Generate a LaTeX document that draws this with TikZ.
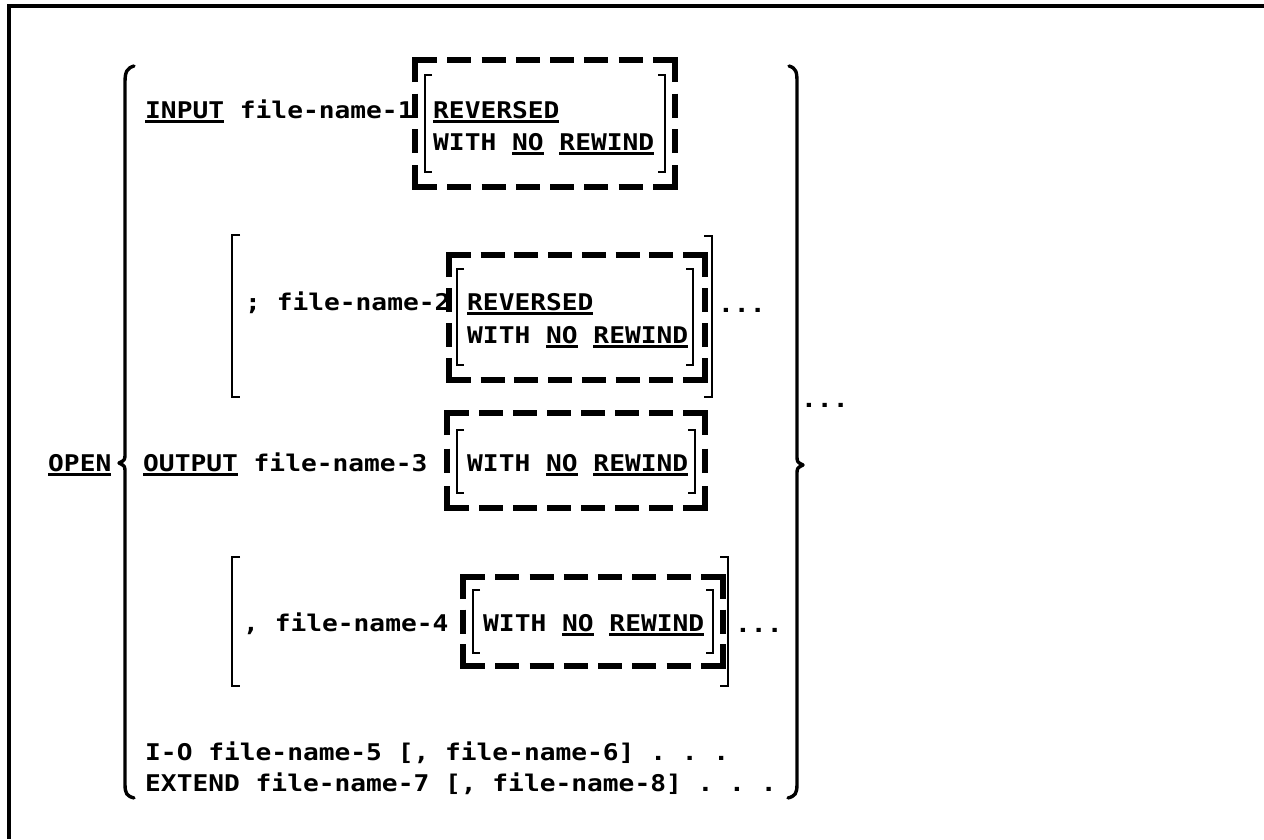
\documentclass[tikz,border=0pt]{standalone}
\usepackage{fontspec}
\setmonofont{DejaVu Sans Mono}[FakeStretch=1.14]
\usetikzlibrary{positioning}

\newsavebox\ulbox
\newcommand\ul[1]{\sbox\ulbox{#1}\rlap{\rule[-4.8pt]{\wd\ulbox}{2.6pt}}\usebox\ulbox}

\begin{document}
\begin{tikzpicture}[
  x=1pt, y=-1pt,
  every node/.style={inner sep=0pt, font=\fontsize{23}{27}\selectfont\ttfamily\bfseries},
  word/.style={anchor=base west},
  frame/.style={line width=4pt},
  brace/.style={line width=3.4pt, line cap=round, line join=round},
  brk/.style={line width=2.6pt},
  dashbox/.style={line width=5.5pt},
  corner/.style={line width=5.5pt},
]
\useasboundingbox (0,0) rectangle (1264,839);
\fill[white] (0,0) rectangle (1264,839);

% page frame
\draw[frame] (9,839) -- (9,6) -- (1264,6);

% braces
\draw[brace] (134,66) .. controls (127,68) and (125,72) .. (125,82) -- (125,453)
  .. controls (125,460) .. (119,463) .. controls (125,466) .. (125,473) -- (125,784)
  .. controls (125,794) and (127,796) .. (134,798);
\draw[brace] (789,66) .. controls (796,68) and (797,72) .. (797,82) -- (797,455)
  .. controls (797,462) .. (803,465) .. controls (797,468) .. (797,475) -- (797,784)
  .. controls (797,794) and (795,796) .. (788,798);

% keywords and names
\node[word] (open) at (48,471) {\ul{OPEN}};
\node[word] (in1)  at (145,118) {\ul{INPUT} file-name-1};
\node[word] (fn2)  at (245,310) {; file-name-2};
\node[word] (out3) at (143,471) {\ul{OUTPUT} file-name-3};
\node[word] (fn4)  at (243,631) {, file-name-4};
\node[word] (io5)  at (145,760) {I-O file-name-5 [, file-name-6] . . .};
\node[word] (ext7) at (145,791) {EXTEND file-name-7 [, file-name-8] . . .};

% options in the dashed boxes
\node[word] (rev1) at (433,118) {\ul{REVERSED}};
\node[word] (nr1)  at (433,150) {WITH \ul{NO} \ul{REWIND}};
\node[word] (rev2) at (467,310) {\ul{REVERSED}};
\node[word] (nr2)  at (467,343) {WITH \ul{NO} \ul{REWIND}};
\node[word] (nr3)  at (467,471) {WITH \ul{NO} \ul{REWIND}};
\node[word] (nr4)  at (483,631) {WITH \ul{NO} \ul{REWIND}};

% repeats
\node[word] (more2) at (718,312) {...};
\node[word] (more4) at (735,632) {...};
\node[word] (moreall) at (801,407) {...};

% dashed boxes with solid corners, dashes spread evenly on each side
\foreach \l/\t/\r/\b in {415/60/675/187, 449/255/705/380, 447/413/705/508, 463/577/723/666} {
  \pgfmathsetmacro\hm{\r-\l-44}
  \pgfmathsetmacro\hn{max(1,round((\hm-12)/36))}
  \pgfmathsetmacro\hg{(\hm-24*\hn)/(\hn+1)}
  \pgfmathsetmacro\vm{\b-\t-44}
  \pgfmathsetmacro\vn{max(1,round((\vm-12)/36))}
  \pgfmathsetmacro\vg{(\vm-24*\vn)/(\vn+1)}
  \draw[dashbox, dash pattern=on 24pt off \hg pt] (\l+22+\hg,\t) -- (\r-22,\t);
  \draw[dashbox, dash pattern=on 24pt off \hg pt] (\l+22+\hg,\b) -- (\r-22,\b);
  \draw[dashbox, dash pattern=on 24pt off \vg pt] (\l,\t+22+\vg) -- (\l,\b-22);
  \draw[dashbox, dash pattern=on 24pt off \vg pt] (\r,\t+22+\vg) -- (\r,\b-22);
  \draw[corner] (\l,\t+22) -- (\l,\t) -- (\l+22,\t);
  \draw[corner] (\r-22,\t) -- (\r,\t) -- (\r,\t+22);
  \draw[corner] (\l,\b-22) -- (\l,\b) -- (\l+22,\b);
  \draw[corner] (\r-22,\b) -- (\r,\b) -- (\r,\b-22);
}

% inner brackets
\foreach \l/\t/\r/\b in {425/75/665/172, 457/269/693/365, 457/430/695/493, 473/590/713/653} {
  \draw[brk] (\l+7,\t) -- (\l,\t) -- (\l,\b) -- (\l+7,\b);
  \draw[brk] (\r-7,\t) -- (\r,\t) -- (\r,\b) -- (\r-7,\b);
}

% outer brackets of the repeated names
\draw[brk] (240,235) -- (232,235) -- (232,397) -- (240,397);
\draw[brk] (704,236) -- (712,236) -- (712,397) -- (704,397);
\draw[brk] (240,557) -- (232,557) -- (232,686) -- (240,686);
\draw[brk] (720,557) -- (728,557) -- (728,686) -- (720,686);
\end{tikzpicture}
\end{document}
